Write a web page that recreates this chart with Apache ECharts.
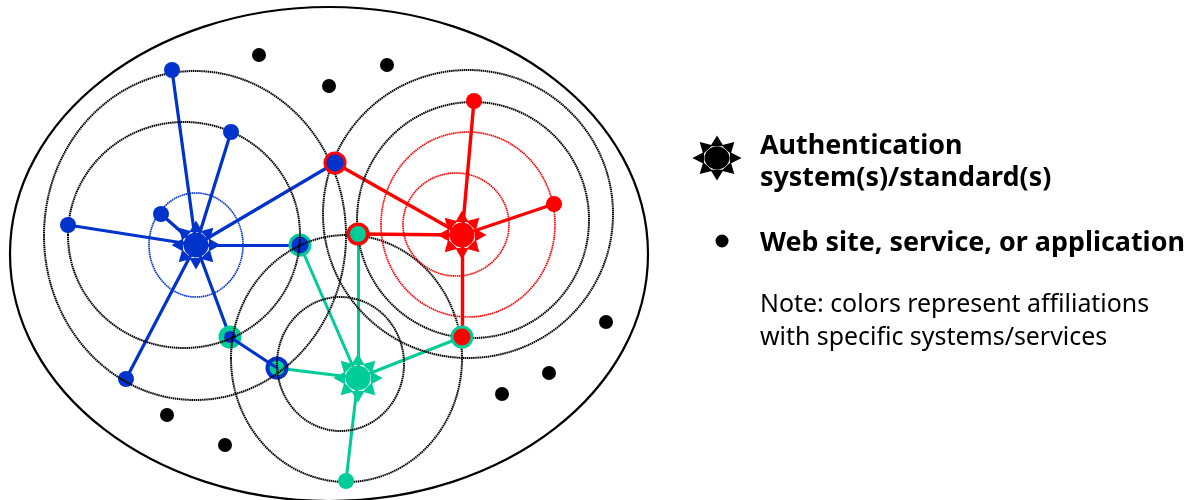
<!DOCTYPE html>
<html><head><meta charset="utf-8">
<style>html,body{margin:0;padding:0;background:#fff}#c{width:1196px;height:500px}</style>
<script src="https://cdn.jsdelivr.net/npm/echarts@6/dist/echarts.min.js"></script>
</head><body><div id="c"></div>
<script>
const BLUE='#0033cc', RED='#ff0000', GREEN='#00cc99', BLACK='#000000';
// rings: [cx, cy, rx, ry]
const boundaryRing=[[329,254,319,247]];
const blackRings=[[195,235.5,151,164.5],[184,235,116,113],[468,214,145,144],[473,220,116,118],[346.5,358.5,115.5,123.5],[340.5,364,63.5,67]];
const blueRings=[[196,245,47,52]];
const redRings=[[468,224.5,87,92.5],[456,224.5,53,51.5]];
// hubs
const blueHub=[196,245], redHub=[462,235], greenHub=[358,378];
// plain nodes
const blueLeaves=[[172,70],[231,132],[161,214],[68,225]];
const blueLeavesUnderRing=[[126,379]];
const redLeaves=[[474,101],[554,204]];
const greenLeaves=[[346,481]];
const blackDots=[[259,55],[329,86],[387,65],[606,322],[549,373],[502,394],[167,415],[225,445]];
// shared nodes
const nRedBlue=[335,163], nRedGreen=[358,234], nGreenBlue1=[300,245], nGreenBlue2=[230,337], nBlueGreen=[277,368], nGreenRed=[462,337];
const blueEdges=[[blueHub,[172,70]],[blueHub,[231,132]],[blueHub,[161,214]],[blueHub,[68,225]],[blueHub,[126,379]],[blueHub,nRedBlue],[blueHub,nGreenBlue1],[blueHub,nGreenBlue2]];
const blueLink=[[nGreenBlue2,nBlueGreen]];
const redEdges=[[redHub,[474,101]],[redHub,[554,204]],[redHub,nRedBlue],[redHub,nRedGreen],[redHub,nGreenRed]];
const greenEdges=[[greenHub,nGreenBlue1],[greenHub,nRedGreen],[greenHub,nBlueGreen],[greenHub,nGreenRed],[greenHub,[346,481]]];
// legend
const legendStar=[717,158], legendDot=[722,241];
const legendBold=[['Authentication',146],['system(s)/standard(s)',178],['Web site, service, or application',243]];
const legendNote=[['Note: colors represent affiliations',305],['with specific systems/services',338]];

function starPath(){
  const R=24.5,r0=12.9,hw=6.6,c=12.5;let d='';
  for(let i=0;i<8;i++){
    const a=i*Math.PI/4,ca=Math.cos(a),sa=Math.sin(a);
    const p=(u,v)=>(u*ca-v*sa).toFixed(2)+' '+(u*sa+v*ca).toFixed(2);
    d+='M'+p(R,0)+'L'+p(r0,hw)+'L'+p(r0,-hw)+'Z';
  }
  d+='M'+(-c)+' 0A'+c+' '+c+' 0 1 1 '+c+' 0A'+c+' '+c+' 0 1 1 '+(-c)+' 0Z';
  return 'path://'+d;
}
const STAR=starPath();
function rings(data,color,w,dash,z){return {type:'custom',coordinateSystem:'cartesian2d',silent:true,z,clip:true,
  data,encode:{x:0,y:1},
  renderItem(p,api){const c=api.coord([api.value(0),api.value(1)]),s=api.size([api.value(2),api.value(3)]);
    return {type:'ellipse',shape:{cx:c[0],cy:c[1],rx:s[0],ry:s[1]},style:{fill:'none',stroke:color,lineWidth:w,lineDash:dash}};}};}
function edges(data,color,w,z){return {type:'lines',coordinateSystem:'cartesian2d',silent:true,z,
  data:data.map(e=>({coords:e})),lineStyle:{color,width:w,opacity:1,cap:'round'},symbol:'none',effect:{show:false}};}
function dots(data,color,size,z,symbol){return {type:'scatter',silent:true,z,data,symbol:symbol||'circle',symbolSize:size,
  itemStyle:{color,opacity:1},animation:false};}
const ch=echarts.init(document.getElementById('c'),null,{renderer:'canvas'});
ch.setOption({animation:false,backgroundColor:'#fff',
 grid:{left:0,right:0,top:0,bottom:0},
 xAxis:{type:'value',min:0,max:1196,show:false},
 yAxis:{type:'value',min:0,max:500,inverse:true,show:false},
 tooltip:{show:false},
 graphic:{elements:[
   ...legendBold.map(([t,y])=>({type:'text',x:760,y,z:50,style:{text:t,fill:'#000',font:'bold 26.9px "Noto Sans"',verticalAlign:'middle'}})),
   ...legendNote.map(([t,y])=>({type:'text',x:760,y,z:50,style:{text:t,fill:'#000',font:'24.9px "Noto Sans"',verticalAlign:'middle'}}))
 ]},
 series:[
  rings(boundaryRing,BLACK,2.2,null,1),
  edges(greenEdges,GREEN,3,3),
  edges(blueEdges,BLUE,3.2,3),
  edges(redEdges,RED,3.4,3.5),
  dots([nGreenBlue1,nGreenBlue2],GREEN,23,4),
  dots([nBlueGreen],BLUE,23,4),
  dots(blueLeavesUnderRing,BLUE,16,4),
  dots([nGreenBlue1],BLUE,17,4.1),
  dots([nGreenBlue2],BLUE,12,4.1),
  dots([nBlueGreen],GREEN,15,4.1),
  edges(blueLink,BLUE,3.2,4.2),
  rings(blackRings,BLACK,2,[1.5,0.6],5),
  rings(blueRings,BLUE,1.7,[1.5,0.6],5),
  rings(redRings,RED,1.7,[1.5,0.6],5),
  dots(blackDots,BLACK,14,6),
  dots([legendDot],BLACK,13,6),
  dots(blueLeaves,BLUE,16,6),
  dots(redLeaves,RED,16,6),
  dots(greenLeaves,GREEN,16,6),
  dots([nRedBlue,nRedGreen],RED,23,6),
  dots([nGreenRed],GREEN,23,6),
  dots([nRedBlue],BLUE,17,7),
  dots([nRedGreen],GREEN,16,7),
  dots([nGreenRed],RED,17,7),
  dots([blueHub],BLUE,[49,49],8,STAR),
  dots([redHub],RED,[49,49],8,STAR),
  dots([greenHub],GREEN,[49,49],8,STAR),
  dots([legendStar],BLACK,[49,45],8,STAR)
 ]});
</script></body></html>
